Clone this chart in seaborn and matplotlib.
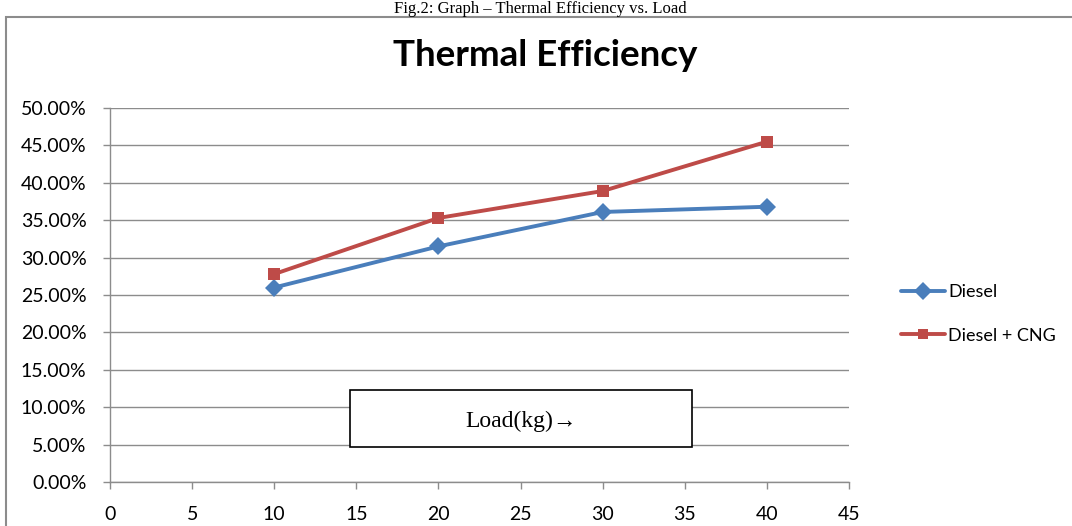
import pandas as pd
import numpy as np
import matplotlib
matplotlib.use('Agg')
import matplotlib.pyplot as plt
from matplotlib.patches import Rectangle
from matplotlib.lines import Line2D
from matplotlib.ticker import PercentFormatter
import seaborn as sns

# data
load_kg = [10, 20, 30, 40]
diesel = [26.0, 31.5, 36.1, 36.8]
diesel_cng = [27.8, 35.3, 38.9, 45.5]
series_names = ['Diesel', 'Diesel + CNG']
x_ticks = [0, 5, 10, 15, 20, 25, 30, 35, 40, 45]
y_ticks = [0, 5, 10, 15, 20, 25, 30, 35, 40, 45, 50]

df = pd.DataFrame({
    'load': load_kg * 2,
    'eff': diesel + diesel_cng,
    'series': [series_names[0]] * 4 + [series_names[1]] * 4,
})

sns.set_style('white')
plt.rcParams['font.family'] = ['Lato', 'DejaVu Sans']
plt.rcParams['text.color'] = 'black'
plt.rcParams['xtick.color'] = 'black'
plt.rcParams['ytick.color'] = 'black'

fig = plt.figure(figsize=(10.72, 5.26), dpi=100)
ax = fig.add_axes([110 / 1072, 1 - 482 / 526, (849 - 110) / 1072, (482 - 108) / 526])

colors = {'Diesel': '#4A7EBB', 'Diesel + CNG': '#BE4B48'}
sns.lineplot(data=df, x='load', y='eff', hue='series', style='series',
             palette=colors, markers={'Diesel': 'D', 'Diesel + CNG': 's'},
             dashes=False, linewidth=2.8, markersize=9, markeredgewidth=0,
             legend=False, ax=ax)

ax.set_xlim(0, 45)
ax.set_ylim(0, 50)
ax.set_xticks(x_ticks)
ax.set_yticks(y_ticks)
ax.yaxis.set_major_formatter(PercentFormatter(decimals=2))
ax.set_xlabel('')
ax.set_ylabel('')
ax.grid(axis='y', color='#8c8c8c', linewidth=1)
ax.set_axisbelow(True)
for side in ['top', 'right']:
    ax.spines[side].set_visible(False)
for side in ['left', 'bottom']:
    ax.spines[side].set_color('#8c8c8c')
    ax.spines[side].set_linewidth(1)
ax.tick_params(axis='both', which='major', length=5, width=1, color='#8c8c8c',
               labelsize=14, labelcolor='black', direction='out', bottom=True, left=True)
ax.tick_params(axis='x', pad=12)
ax.tick_params(axis='y', pad=12)

# legend
handles = [Line2D([0], [0], color=colors['Diesel'], marker='D', lw=2.8, ms=9, mew=0),
           Line2D([0], [0], color=colors['Diesel + CNG'], marker='s', lw=2.8, ms=7.5, mew=0)]
fig.legend(handles, series_names, loc='center left', bbox_to_anchor=(885 / 1072, 1 - 314 / 526),
           frameon=False, fontsize=13, handlelength=2.4, handletextpad=0.2, labelspacing=1.5)

# title and caption
fig.text(545 / 1072, 1 - 55 / 526, 'Thermal Efficiency', ha='center', va='center',
         fontsize=26.5, fontweight='bold')
fig.text(540 / 1072, 1 - 1 / 526, 'Fig.2: Graph \u2013 Thermal Efficiency vs. Load', ha='center',
         va='top', fontsize=12, family=['Liberation Serif', 'DejaVu Serif'])

# chart frame
fig.patches.append(Rectangle((6 / 1072, -0.05), 1.1, 1 - 17 / 526 + 0.05, transform=fig.transFigure,
                             fill=False, edgecolor='#8c8c8c', linewidth=1.5))

# load text box
fig.patches.append(Rectangle((350 / 1072, 1 - 447 / 526), 342 / 1072, 57 / 526,
                             transform=fig.transFigure, facecolor='white',
                             edgecolor='black', linewidth=1.2, zorder=5))
fig.text(521 / 1072, 1 - 421 / 526, 'Load(kg)\u2192', ha='center', va='center', fontsize=17,
         family=['Liberation Serif', 'DejaVu Serif'], zorder=6)

fig.savefig('out.png', dpi=100)
